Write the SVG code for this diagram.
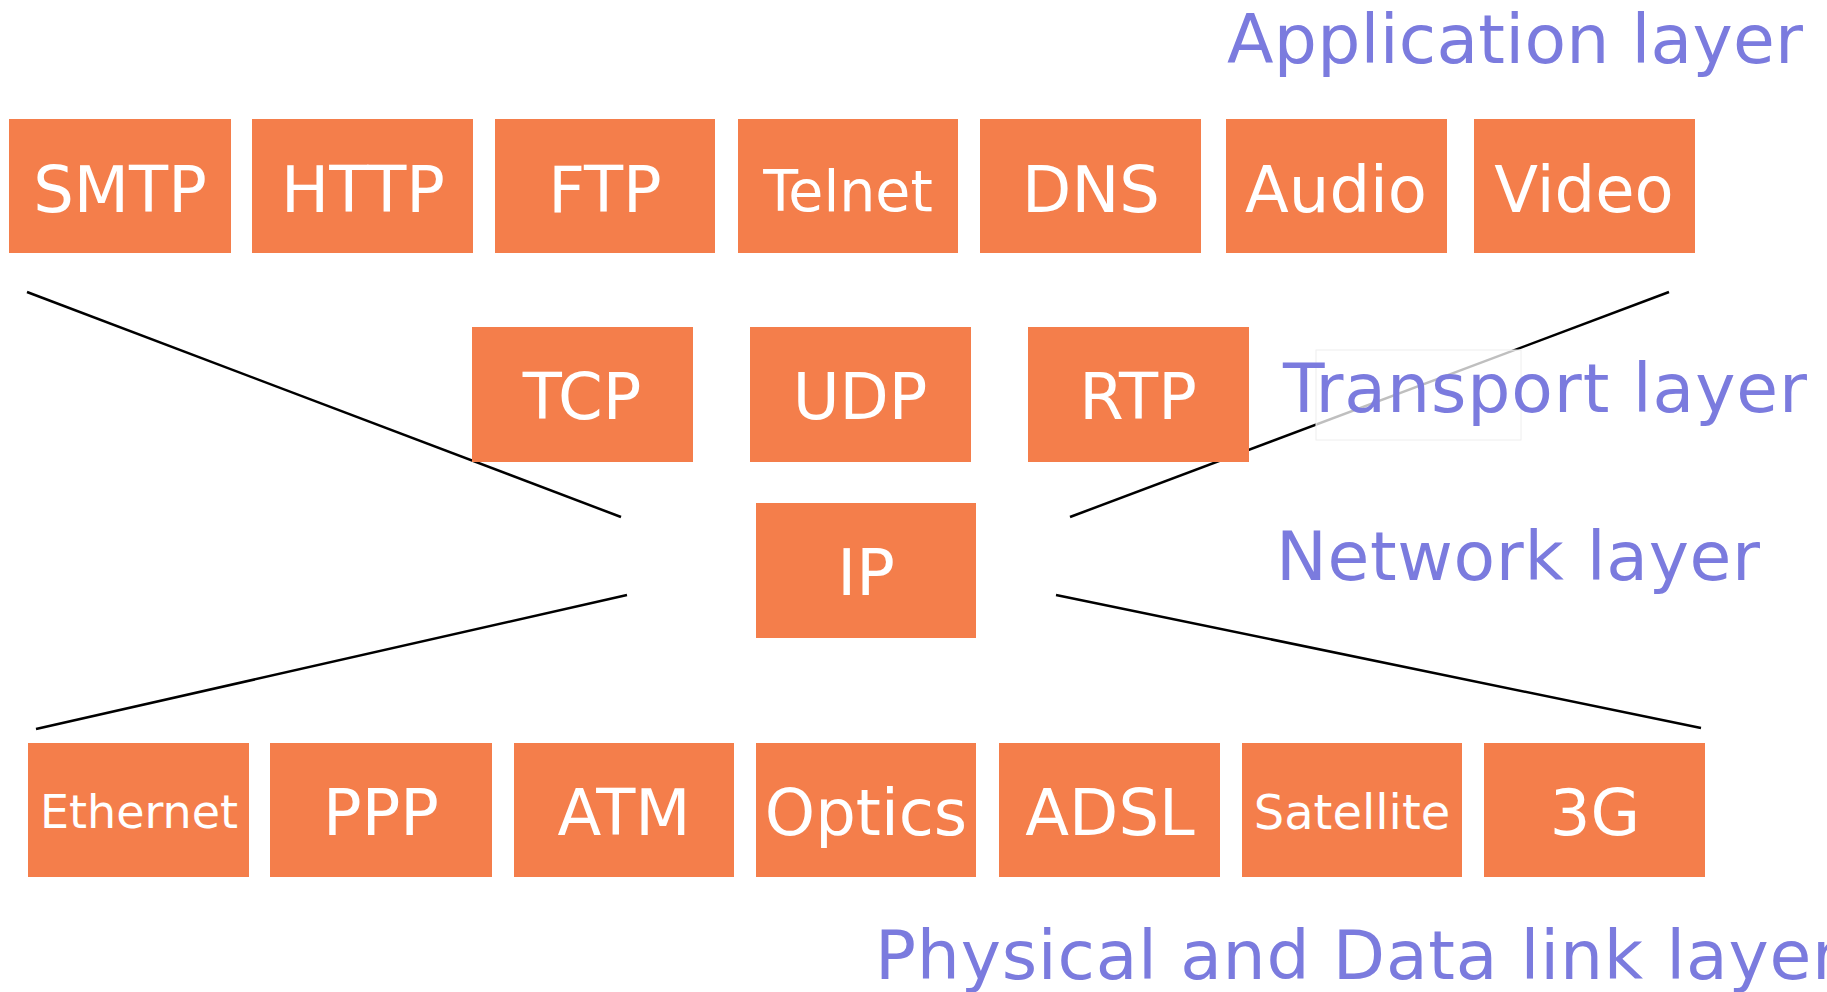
<svg xmlns="http://www.w3.org/2000/svg" width="1827" height="992" viewBox="0 0 1827 992">
  <style>
    .box { fill: #F47E4B; }
    .lbl { fill: #FFFFFF; font-family: "DejaVu Sans", Verdana, sans-serif; font-size: 64px; text-anchor: middle; }
    .layer { fill: #7B7BDE; font-family: "DejaVu Sans", Verdana, sans-serif; font-size: 68px; }
    .conn { stroke: #000000; stroke-width: 2.5; fill: none; }
  </style>
  <rect width="1827" height="992" fill="#FFFFFF"/>

  <!-- funnel lines, drawn beneath the boxes -->
  <g id="connectors">
    <line class="conn" x1="27" y1="292" x2="621" y2="517"/>
    <line class="conn" x1="1669" y1="292" x2="1070" y2="517"/>
    <line class="conn" x1="627" y1="595" x2="36" y2="729"/>
    <line class="conn" x1="1056" y1="595" x2="1701" y2="728"/>
  </g>

  <!-- layer captions -->
  <g id="caption-application"><text class="layer" x="1227" y="63" textLength="576" lengthAdjust="spacing">Application layer</text></g>
  <g id="caption-transport">
    <rect x="1316" y="350" width="205" height="90" fill="#FFFFFF" fill-opacity="0.75" stroke="#EEEEEE" stroke-width="1"/>
    <text class="layer" x="1283" y="412" textLength="524" lengthAdjust="spacing">Transport layer</text>
  </g>
  <g id="caption-network"><text class="layer" x="1276" y="580" textLength="484" lengthAdjust="spacing">Network layer</text></g>
  <g id="caption-physical"><text class="layer" x="875" y="979" textLength="965" lengthAdjust="spacing">Physical and Data link layer</text></g>

  <!-- application layer -->
  <g id="smtp"><rect class="box" x="9" y="119" width="222" height="134"/><text class="lbl" x="120" y="212">SMTP</text></g>
  <g id="http"><rect class="box" x="252" y="119" width="221" height="134"/><text class="lbl" x="363" y="212">HTTP</text></g>
  <g id="ftp"><rect class="box" x="495" y="119" width="220" height="134"/><text class="lbl" x="605" y="212">FTP</text></g>
  <g id="telnet"><rect class="box" x="738" y="119" width="220" height="134"/><text class="lbl" x="848" y="211" style="font-size:57px">Telnet</text></g>
  <g id="dns"><rect class="box" x="980" y="119" width="221" height="134"/><text class="lbl" x="1091" y="212">DNS</text></g>
  <g id="audio"><rect class="box" x="1226" y="119" width="221" height="134"/><text class="lbl" x="1336" y="212">Audio</text></g>
  <g id="video"><rect class="box" x="1474" y="119" width="221" height="134"/><text class="lbl" x="1584" y="212">Video</text></g>

  <!-- transport layer -->
  <g id="tcp"><rect class="box" x="472" y="327" width="221" height="135"/><text class="lbl" x="582" y="419">TCP</text></g>
  <g id="udp"><rect class="box" x="750" y="327" width="221" height="135"/><text class="lbl" x="860" y="419">UDP</text></g>
  <g id="rtp"><rect class="box" x="1028" y="327" width="221" height="135"/><text class="lbl" x="1138" y="419">RTP</text></g>

  <!-- network layer -->
  <g id="ip"><rect class="box" x="756" y="503" width="220" height="135"/><text class="lbl" x="866" y="595">IP</text></g>

  <!-- physical and data link layer -->
  <g id="ethernet"><rect class="box" x="28" y="743" width="221" height="134"/><text class="lbl" x="139" y="828" style="font-size:46px">Ethernet</text></g>
  <g id="ppp"><rect class="box" x="270" y="743" width="222" height="134"/><text class="lbl" x="381" y="835">PPP</text></g>
  <g id="atm"><rect class="box" x="514" y="743" width="220" height="134"/><text class="lbl" x="624" y="835">ATM</text></g>
  <g id="optics"><rect class="box" x="756" y="743" width="220" height="134"/><text class="lbl" x="866" y="835">Optics</text></g>
  <g id="adsl"><rect class="box" x="999" y="743" width="221" height="134"/><text class="lbl" x="1110" y="835">ADSL</text></g>
  <g id="satellite"><rect class="box" x="1242" y="743" width="220" height="134"/><text class="lbl" x="1352" y="829" style="font-size:48px">Satellite</text></g>
  <g id="g3"><rect class="box" x="1484" y="743" width="221" height="134"/><text class="lbl" x="1595" y="835">3G</text></g>
</svg>
